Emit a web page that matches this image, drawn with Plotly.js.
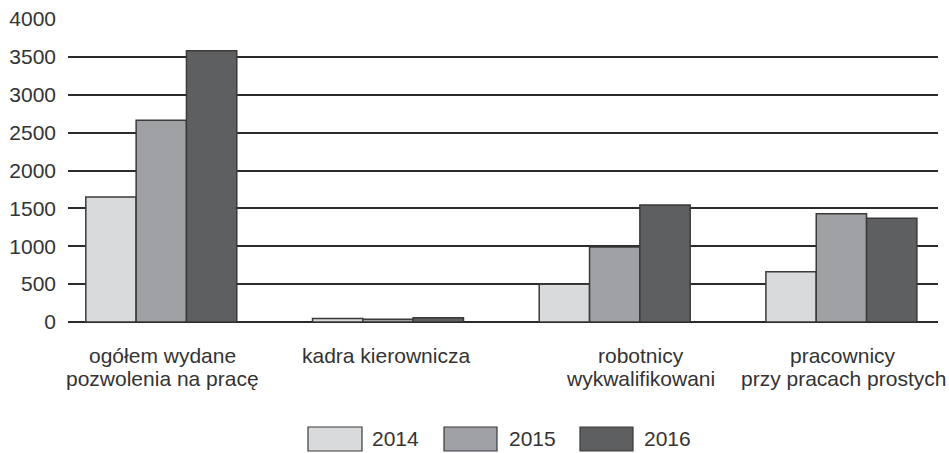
<!DOCTYPE html>
<html>
<head>
<meta charset="utf-8">
<script src="https://cdn.plot.ly/plotly-3.0.1.min.js"></script>
<style>html,body{margin:0;padding:0;background:#fff;}#chart{width:949px;height:453px;}</style>
</head>
<body>
<div id="chart"></div>
<script>
// ---- data ----
const categories = ["ogółem wydane<br>pozwolenia na pracę", "kadra kierownicza", "robotnicy<br>wykwalifikowani", "pracownicy<br>przy pracach prostych"];
const seriesNames = ["2014", "2015", "2016"];
const values2014 = [1650, 45, 500, 665];
const values2015 = [2665, 35, 990, 1430];
const values2016 = [3580, 55, 1545, 1370];
const yTicks = [0, 500, 1000, 1500, 2000, 2500, 3000, 3500, 4000];

// ---- style ----
const colors = ["#d9dadc", "#a0a1a5", "#5e5f61"];
const outline = "#3a3a3a";
const textColor = "#333333";
const fontFam = "Liberation Sans, Arial, sans-serif";
const W = 949, H = 453;
const M = {l: 68, r: 11, t: 19, b: 131};
const pw = W - M.l - M.r, ph = H - M.t - M.b;
const px2x = p => (p - M.l) / pw;
const py2y = p => (H - M.b - p) / ph;

const allValues = [values2014, values2015, values2016];
const idx = categories.map((c, i) => i);
const traces = allValues.map((vals, k) => ({
  type: "bar",
  name: seriesNames[k],
  x: idx,
  y: vals,
  marker: {color: colors[k], line: {color: outline, width: 1.5}},
  showlegend: false,
  hoverinfo: "y+name"
}));

// category labels (one annotation per line for tighter line spacing)
const labelShift = [1, -2, 26, 2];
const lineGap = 23;
const annotations = [];
categories.forEach((c, i) => {
  c.split("<br>").forEach((line, j) => {
    annotations.push({
      x: i, xref: "x", y: 0, yref: "paper",
      xanchor: "center", yanchor: "top", yshift: -20 - lineGap * j, xshift: labelShift[i],
      text: line, showarrow: false, align: "center",
      font: {family: fontFam, size: 21, color: textColor}
    });
  });
});

// custom legend (large swatches)
const legendBoxes = [[308, 362], [444, 497], [580, 633]];
const legendTextX = [370, 507, 642];
const shapes = [];
legendBoxes.forEach((b, k) => {
  shapes.push({
    type: "rect", xref: "paper", yref: "paper",
    x0: px2x(b[0]), x1: px2x(b[1]), y0: py2y(451), y1: py2y(427),
    fillcolor: colors[k], line: {color: outline, width: 1.2}
  });
  annotations.push({
    x: px2x(legendTextX[k]), xref: "paper", y: py2y(439), yref: "paper",
    xanchor: "left", yanchor: "middle", text: seriesNames[k], showarrow: false,
    font: {family: fontFam, size: 21, color: textColor}
  });
});

const layout = {
  width: W, height: H,
  margin: M,
  paper_bgcolor: "#fff", plot_bgcolor: "#fff",
  barmode: "group", bargap: 0.334, bargroupgap: 0,
  showlegend: false,
  xaxis: {
    type: "linear", range: [(M.l - 161.3) / 226.7, (W - M.r - 161.3) / 226.7],
    showticklabels: false, showgrid: false, zeroline: false, ticks: "", fixedrange: true
  },
  yaxis: {
    range: [0, 4000], tickvals: yTicks, ticktext: yTicks.map(String),
    showgrid: true, gridcolor: "#2b2b2b", gridwidth: 2,
    zeroline: true, zerolinecolor: "#2b2b2b", zerolinewidth: 2,
    ticks: "", ticklabelstandoff: 11, showline: false,
    tickfont: {family: fontFam, size: 21, color: textColor}
  },
  annotations: annotations,
  shapes: shapes
};

Plotly.newPlot("chart", traces, layout, {displayModeBar: false, staticPlot: true});
</script>
</body>
</html>
